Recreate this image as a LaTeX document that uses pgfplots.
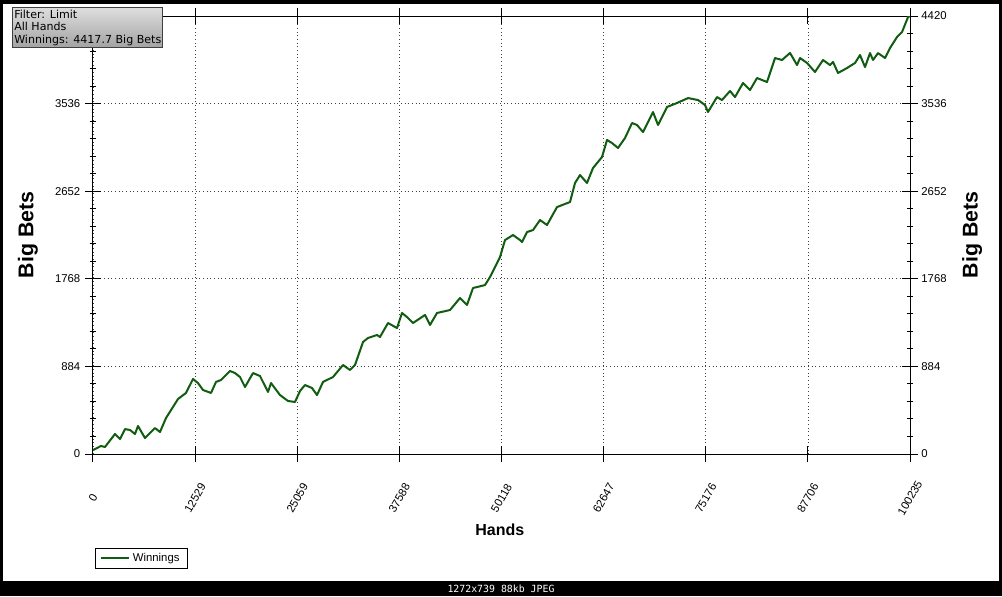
\documentclass[border=0pt]{standalone}
\usepackage{pgfplots}
\usepackage{pgfplotstable}
\pgfplotsset{compat=1.18}
\usepackage{fontspec}
\setmainfont{Liberation Sans}
\newfontfamily\infofont{DejaVu Sans}
\newfontfamily\barfont{DejaVu Sans Mono}
\definecolor{wgreen}{RGB}{16,92,16}

\pgfplotstableread{
x y
0 40
982 81
1472 71
2699 202
3313 151
3926 252
4540 242
5153 202
5521 283
6380 161
7607 262
8220 222
8956 363
10429 555
11410 616
12269 757
12882 716
13496 646
14477 616
15091 727
15704 747
16809 838
17422 817
18035 777
18649 676
19630 817
20489 787
21471 626
21839 716
22943 595
23925 535
24783 525
25397 636
26010 696
26869 666
27483 595
28219 727
29446 777
30673 898
31531 848
32145 898
33126 1130
33740 1171
34844 1201
35212 1181
36194 1322
37298 1271
37911 1423
38525 1382
39261 1322
40733 1403
41347 1302
42205 1423
43800 1453
45027 1574
45886 1504
46622 1675
48094 1705
48708 1786
49321 1887
49935 1988
50548 2159
51530 2210
52389 2159
52634 2139
53247 2240
53984 2260
54842 2361
55701 2311
56928 2492
58523 2543
59137 2735
59750 2815
60609 2735
61345 2886
62449 2997
63063 3169
63676 3138
64412 3088
65271 3189
66130 3340
66743 3320
67480 3249
68707 3451
69320 3320
70424 3502
71651 3542
73001 3592
74228 3572
75082 3522
75450 3451
76555 3602
77168 3572
78154 3663
78767 3602
79749 3744
80607 3673
81466 3794
82693 3754
83675 3996
84533 3976
85515 4047
86374 3925
86742 3996
87601 3946
88582 3855
89564 3976
90423 3925
90791 3956
91404 3845
92508 3895
93490 3946
94103 4026
94717 3905
95330 4046
95698 3976
96312 4046
97170 3996
97784 4097
98643 4208
99256 4258
99992 4410
100235 4418
}\winnings

\begin{document}
\begin{tikzpicture}[x=0.75pt,y=-0.75pt]
\fill[black] (0,0) rectangle (1002,596);
\fill[white] (3,4) rectangle (999,581);
\path[use as bounding box] (0,0) rectangle (1002,596);
\begin{axis}[
  at={(69.75pt,-340.5pt)}, anchor=south west,
  scale only axis, width=612.75pt, height=328.5pt,
  xmin=0, xmax=100235, ymin=0, ymax=4420,
  scaled x ticks=false, scaled y ticks=false,
  xtick={0,12529,25059,37588,50118,62647,75176,87706,100235},
  xticklabels={0,12529,25059,37588,50118,62647,75176,87706,100235},
  ytick={0,884,1768,2652,3536,4420},
  yticklabels={0,884,1768,2652,3536,{}},
  minor x tick num=4, minor y tick num=4,
  tick align=center,
  major tick length=12pt, minor tick length=5pt,
  every tick/.style={black, line width=0.75pt},
  axis line style={line width=0.75pt},
  grid=major, major grid style={black!75, line width=0.55pt, dash pattern=on 0.55pt off 2.2pt},
  xticklabel pos=lower, yticklabel pos=left,
  /pgf/number format/assume math mode=true,
  tick label style={font=\fontsize{8.5}{10}\selectfont},
  xticklabel style={yshift=-27pt, rotate=60, anchor=center},
  yticklabel style={anchor=east},
  xlabel={Hands},
  every axis x label/.style={at={(axis description cs:0.498,-0.1735)}, anchor=center, font=\fontsize{12}{14}\selectfont\bfseries},
  ylabel={Big Bets},
  every axis y label/.style={at={(axis description cs:-0.0796,0.5)}, rotate=90, anchor=center, font=\fontsize{16}{18}\selectfont\bfseries},
  legend style={at={(axis description cs:0.0024,-0.2146)}, anchor=north west, draw=black, line width=0.5pt, font=\fontsize{8.5}{10}\selectfont, inner xsep=4pt, inner ysep=1.5pt, row sep=0pt},
  legend cell align=left,
  legend image code/.code={\draw[#1, line width=1.2pt] (0pt,0pt) -- (21pt,0pt);},
]
\addplot[wgreen, line width=1.5pt, line join=round] table[x=x,y=y] {\winnings};
\addlegendentry{Winnings}
\end{axis}
\begin{axis}[
  at={(69.75pt,-340.5pt)}, anchor=south west,
  scale only axis, width=612.75pt, height=328.5pt,
  xmin=0, xmax=100235, ymin=0, ymax=4420,
  scaled x ticks=false, scaled y ticks=false,
  hide x axis, axis y line*=right,
  axis line style={draw=none},
  ytick={0,884,1768,2652,3536,4420},
  yticklabels={0,884,1768,2652,3536,4420},
  ytick style={draw=none},
  tick label style={font=\fontsize{8.5}{10}\selectfont},
  yticklabel style={anchor=west, xshift=5pt},
  ylabel={Big Bets},
  every axis y label/.style={at={(axis description cs:1.0759,0.5)}, rotate=90, anchor=center, font=\fontsize{16}{18}\selectfont\bfseries},
]
\end{axis}
\draw[draw=gray!50!black, line width=0.6pt, top color=gray!25, bottom color=gray!72] (12,7) rectangle (162,47);
\node[anchor=base west, inner sep=0pt, font=\infofont\fontsize{8.3}{10}\selectfont] at (14,18.5) {Filter: Limit};
\node[anchor=base west, inner sep=0pt, font=\infofont\fontsize{8.3}{10}\selectfont] at (14,31) {All Hands};
\node[anchor=base west, inner sep=0pt, font=\infofont\fontsize{8.3}{10}\selectfont] at (14,43.5) {Winnings: 4417.7 Big Bets};
\node[white, inner sep=0pt, font=\barfont\fontsize{7.4}{9}\selectfont] at (501,589) {1272x739 88kb JPEG};
\end{tikzpicture}
\end{document}
